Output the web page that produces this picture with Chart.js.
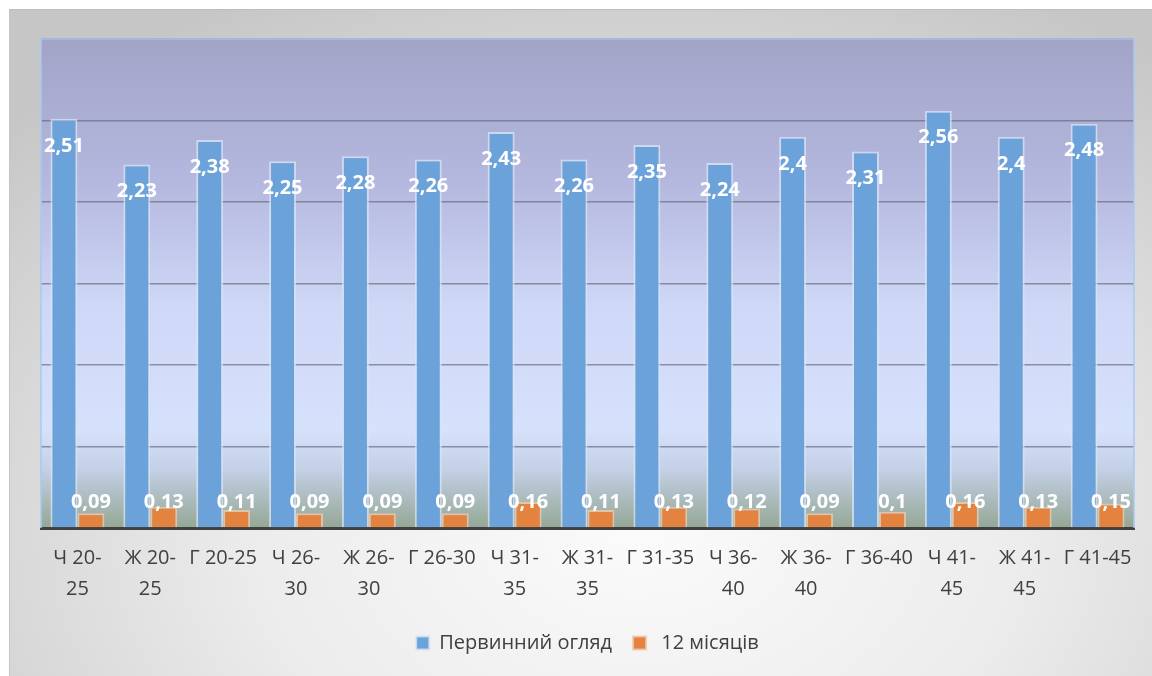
<!DOCTYPE html>
<html lang="uk">
<head>
<meta charset="utf-8">
<title>Первинний огляд / 12 місяців</title>
<script src="https://cdn.jsdelivr.net/npm/chart.js@4"></script>
<style>
  html, body { margin: 0; padding: 0; background: #fff; }
  #frame {
    position: absolute;
    left: 9px; top: 9px;
    width: 1143px; height: 667px;
    box-sizing: border-box;
    border-left: 1px solid #c4c4c4;
    border-top: 1px solid #bdbdbd;
    background: radial-gradient(ellipse 75% 90% at 55% 78%, #fbfbfb 0%, #ececec 45%, #d4d4d4 80%, #c6c6c6 100%);
  }
  #frame canvas { display: block; }
</style>
</head>
<body>
<div id="frame"><canvas id="chart"></canvas></div>
<script>
const categories = [
  ["Ч 20-", "25"], ["Ж 20-", "25"], "Г 20-25",
  ["Ч 26-", "30"], ["Ж 26-", "30"], "Г 26-30",
  ["Ч 31-", "35"], ["Ж 31-", "35"], "Г 31-35",
  ["Ч 36-", "40"], ["Ж 36-", "40"], "Г 36-40",
  ["Ч 41-", "45"], ["Ж 41-", "45"], "Г 41-45"
];
const firstVisit = [2.51, 2.23, 2.38, 2.25, 2.28, 2.26, 2.43, 2.26, 2.35, 2.24, 2.4, 2.31, 2.56, 2.4, 2.48];
const after12Months = [0.09, 0.13, 0.11, 0.09, 0.09, 0.09, 0.16, 0.11, 0.13, 0.12, 0.09, 0.1, 0.16, 0.13, 0.15];
const seriesNames = ["Первинний огляд", " 12 місяців"];
const yMax = 3;
const yStep = 0.5;

const fmt = (v) => String(v).replace(".", ",");

// plot area background: purple-grey at the top fading to pale blue, greenish near the axis
const plotBackground = {
  id: "plotBackground",
  beforeDraw(chart) {
    const { ctx, chartArea: a } = chart;
    const g = ctx.createLinearGradient(0, a.top, 0, a.bottom);
    g.addColorStop(0, "#a2a3c7");
    g.addColorStop(0.3, "#b5b9df");
    g.addColorStop(0.55, "#cfd8f7");
    g.addColorStop(0.8, "#d6e1fc");
    g.addColorStop(0.88, "#c3d0e6");
    g.addColorStop(1, "#95a795");
    ctx.save();
    ctx.fillStyle = g;
    ctx.fillRect(a.left, a.top, a.right - a.left, a.bottom - a.top);
    ctx.restore();
  },
  beforeDatasetsDraw(chart) {
    const { ctx, chartArea: a } = chart;
    ctx.save();
    ctx.strokeStyle = "#a9c9f1";
    ctx.lineWidth = 1.5;
    ctx.beginPath();
    ctx.moveTo(a.left, a.bottom);
    ctx.lineTo(a.left, a.top);
    ctx.lineTo(a.right, a.top);
    ctx.lineTo(a.right, a.bottom);
    ctx.stroke();
    ctx.restore();
  }
};

// white value labels: inside the top of the tall bars, just above the base for the small ones
const valueLabels = {
  id: "valueLabels",
  afterDatasetsDraw(chart) {
    const { ctx } = chart;
    ctx.save();
    ctx.font = "bold 20px 'Open Sans'";
    ctx.fillStyle = "#ffffff";
    ctx.textAlign = "center";
    ctx.textBaseline = "middle";
    chart.data.datasets.forEach((ds, i) => {
      const meta = chart.getDatasetMeta(i);
      meta.data.forEach((bar, j) => {
        const y = i === 0 ? bar.y + 27 : bar.base - 25;
        ctx.fillText(fmt(ds.data[j]), bar.x, y);
      });
    });
    ctx.restore();
  }
};

new Chart(document.getElementById("chart"), {
  type: "bar",
  data: {
    labels: categories,
    datasets: [
      {
        label: seriesNames[0],
        data: firstVisit,
        backgroundColor: "#6aa2d9",
        borderColor: "rgba(215,228,245,0.75)",
        borderWidth: 2,
        categoryPercentage: 0.74,
        barPercentage: 1.0
      },
      {
        label: seriesNames[1],
        data: after12Months,
        backgroundColor: "#e4833f",
        borderColor: "rgba(240,200,170,0.8)",
        borderWidth: 2,
        categoryPercentage: 0.74,
        barPercentage: 1.0
      }
    ]
  },
  options: {
    responsive: true,
    maintainAspectRatio: false,
    animation: false,
    layout: { padding: { left: 31, right: 18, top: 29, bottom: 13 } },
    scales: {
      x: {
        grid: { display: false },
        border: { display: true, color: "#404040", width: 3 },
        ticks: {
          color: "#404040",
          font: { family: "'Open Sans'", size: 20, lineHeight: 1.55 },
          padding: 7,
          maxRotation: 0,
          autoSkip: false
        }
      },
      y: {
        min: 0,
        max: yMax,
        ticks: { display: false, stepSize: yStep },
        border: { display: false },
        grid: { color: "rgba(105,108,125,0.7)", lineWidth: 1.5, drawTicks: false }
      }
    },
    plugins: {
      tooltip: { enabled: false },
      legend: {
        position: "bottom",
        labels: {
          color: "#404040",
          font: { family: "'Open Sans'", size: 20 },
          boxWidth: 13,
          boxHeight: 13,
          padding: 21
        }
      }
    }
  },
  plugins: [plotBackground, valueLabels]
});
</script>
</body>
</html>
